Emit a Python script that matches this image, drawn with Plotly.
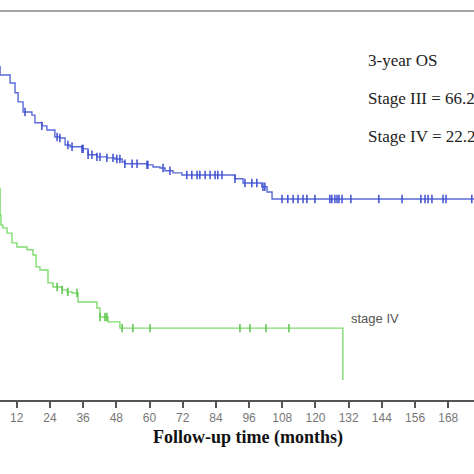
import plotly.graph_objects as go
import numpy as np

# Stage III Kaplan-Meier steps (months, survival)
stage3_t = [0, 1, 2, 3, 4, 5, 6.0, 9.6, 11.4, 12.5, 14.3, 17.5, 18.6, 21.1, 22.9, 25.8, 27.6, 29.5, 31.3,
            35.6, 37.8, 41.0, 44.6, 47.5, 50.1, 51.1, 59.1, 61.3, 63.8, 65.6, 68.5, 71.7, 90.9,
            93.8, 100.6, 102.5, 104.3, 178]
stage3_s = [1.0, 0.98, 0.96, 0.94, 0.92, 0.90, 0.876, 0.853, 0.825, 0.799, 0.770, 0.761, 0.739, 0.730, 0.718,
            0.698, 0.695, 0.675, 0.670, 0.664, 0.647, 0.641, 0.638, 0.635, 0.626, 0.621, 0.618,
            0.612, 0.609, 0.601, 0.595, 0.589, 0.578, 0.566, 0.555, 0.540, 0.520, 0.520]
stage3_cens = [15.0, 21.1, 26.6, 27.6, 30.5, 32.0, 35.6, 36.0, 37.8, 39.2, 41.0, 42.1, 44.6, 46.8, 48.2,
               49.3, 51.1, 53.7, 55.5, 59.1, 59.4, 64.9, 67.4, 73.5, 75.3, 77.2, 78.2, 80.1, 81.9,
               83.7, 84.7, 86.2, 90.9, 94.5, 97.0, 98.8, 101.0, 101.7, 107.9, 110.0, 111.9, 113.7,
               115.5, 116.9, 119.8, 125.2, 125.9, 127.0, 127.8, 128.5, 129.6, 132.8, 142.9, 151.3,
               158.1, 159.6, 160.7, 162.1, 166.1, 167.2, 176.5]

# Stage IV Kaplan-Meier steps
stage4_t = [0, 1, 2, 3, 4, 5, 6.0, 6.3, 7.0, 8.5, 10.3, 12.1, 15.7, 17.9, 19.0, 20.4, 23.3, 25.1, 28.4,
            30.2, 32.0, 34.2, 41.0, 42.1, 45.0, 49.3, 129.9]
stage4_s = [1.0, 0.93, 0.85, 0.75, 0.65, 0.55, 0.474, 0.445, 0.437, 0.422, 0.394, 0.382, 0.374, 0.359,
            0.325, 0.316, 0.279, 0.267, 0.259, 0.253, 0.250, 0.224, 0.207, 0.181, 0.167, 0.149, 0.0]
stage4_cens = [26.6, 28.4, 30.5, 33.8, 42.1, 43.9, 44.6, 50.1, 54.0, 60.2, 92.7, 96.3, 102.1, 110.4]

x_ticks = list(range(0, 180, 12))
x_title = "Follow-up time (months)"
notes = ["3-year OS", "Stage III = 66.2%", "Stage IV = 22.2%"]
curve_label = "stage IV"


def surv_at(ts, ss, t):
    idx = np.searchsorted(ts, t, side="right") - 1
    return ss[max(idx, 0)]


BLUE = "#5a6ad8"
BLUE_D = "#3f4fcf"
GREEN = "#80dc70"
GREEN_D = "#5cc24c"

fig = go.Figure()
fig.add_trace(go.Scatter(x=stage3_t, y=stage3_s, mode="lines", line=dict(color=BLUE, width=1.4, shape="hv"),
                         showlegend=False, hoverinfo="skip"))
fig.add_trace(go.Scatter(x=stage3_cens, y=[surv_at(stage3_t, stage3_s, t) for t in stage3_cens], mode="markers",
                         marker=dict(symbol="line-ns", size=6, line=dict(color=BLUE_D, width=1.5)),
                         showlegend=False, hoverinfo="skip"))
fig.add_trace(go.Scatter(x=stage4_t, y=stage4_s, mode="lines", line=dict(color=GREEN, width=1.4, shape="hv"),
                         showlegend=False, hoverinfo="skip"))
fig.add_trace(go.Scatter(x=stage4_cens, y=[surv_at(stage4_t, stage4_s, t) for t in stage4_cens], mode="markers",
                         marker=dict(symbol="line-ns", size=6, line=dict(color=GREEN_D, width=1.5)),
                         showlegend=False, hoverinfo="skip"))

fig.update_layout(
    width=474, height=474,
    margin=dict(l=0, r=0, t=11, b=74),
    paper_bgcolor="white", plot_bgcolor="white",
    xaxis=dict(range=[5.96, 177.3], tickvals=x_ticks, ticks="outside", ticklen=6, tickwidth=1.5,
               tickcolor="#555", showline=True, linecolor="#555", linewidth=2, showgrid=False,
               zeroline=False, tickfont=dict(family="Liberation Sans", size=12, color="#777")),
    yaxis=dict(range=[-0.0575, 1.06], visible=False, showgrid=False, zeroline=False),
    shapes=[dict(type="line", xref="paper", yref="paper", x0=0, x1=1, y0=1, y1=1,
                 line=dict(color="#888", width=1.5))],
)

fig.add_annotation(text="<b>" + x_title + "</b>", xref="paper", yref="paper", x=248 / 474, y=-0.1285,
                   showarrow=False, font=dict(family="Liberation Serif", size=18, color="#111"))
for txt, py in zip(notes, [60, 98, 136]):
    fig.add_annotation(text=txt, xref="paper", yref="paper", x=366 / 474, y=(400 - py) / 389,
                       xanchor="left", yanchor="middle", showarrow=False,
                       font=dict(family="Liberation Serif", size=17, color="#222"))
fig.add_annotation(text=curve_label, xref="paper", yref="paper", x=349 / 474, y=(400 - 318) / 389,
                   xanchor="left", yanchor="middle", showarrow=False,
                   font=dict(family="Liberation Sans", size=13, color="#555"))

fig.write_html("out.html", config={"displayModeBar": False},
               post_script="document.body.style.margin='0';document.body.style.overflow='hidden';")
